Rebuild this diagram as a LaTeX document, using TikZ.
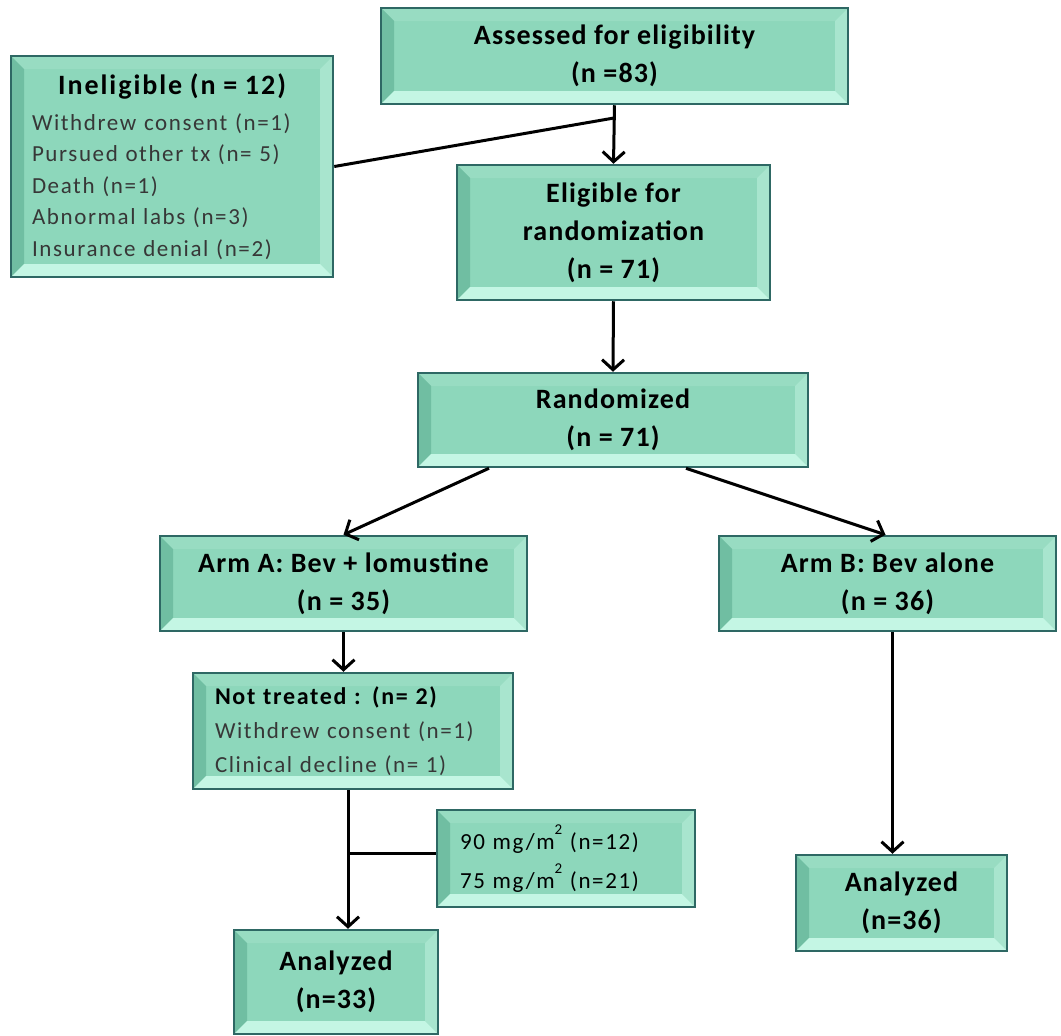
\documentclass[tikz,border=0pt]{standalone}
\usepackage{fontspec}
\setmainfont[LetterSpace=7]{Carlito}
\newfontfamily\titlefont[LetterSpace=4]{Carlito}
\usetikzlibrary{arrows.meta}

\definecolor{boxface}{RGB}{141,215,187}
\definecolor{boxline}{RGB}{46,104,100}
\definecolor{bevtop}{RGB}{152,220,194}
\definecolor{bevleft}{RGB}{112,190,162}
\definecolor{bevright}{RGB}{168,229,206}
\definecolor{bevbottom}{RGB}{196,246,228}
\definecolor{subtext}{RGB}{55,55,55}

\tikzset{every picture/.style={line width=3pt}}
\tikzset{
  bevelbox/.style={draw=boxline, line width=2.5pt, fill=boxface, inner sep=0pt,
    align=center, font=\titlefont\bfseries\fontsize{28}{38}\selectfont,
    path picture={
      \coordinate (bnw) at (path picture bounding box.north west);
      \coordinate (bne) at (path picture bounding box.north east);
      \coordinate (bsw) at (path picture bounding box.south west);
      \coordinate (bse) at (path picture bounding box.south east);
      \fill[bevtop] (bnw) -- (bne) -- ([shift={(-13pt,-13pt)}]bne) -- ([shift={(13pt,-13pt)}]bnw) -- cycle;
      \fill[bevleft] (bnw) -- (bsw) -- ([shift={(13pt,13pt)}]bsw) -- ([shift={(13pt,-13pt)}]bnw) -- cycle;
      \fill[bevright] (bne) -- (bse) -- ([shift={(-13pt,13pt)}]bse) -- ([shift={(-13pt,-13pt)}]bne) -- cycle;
      \fill[bevbottom] (bsw) -- (bse) -- ([shift={(-13pt,13pt)}]bse) -- ([shift={(13pt,13pt)}]bsw) -- cycle;
    }},
  listbox/.style={bevelbox, align=left, font=\normalfont\fontsize{23}{31.5}\selectfont},
  arr/.style={-{Straight Barb[length=10pt,width=22pt]}}
}

\begin{document}
\begin{tikzpicture}[x=1pt,y=-1pt]
\useasboundingbox (0,0) rectangle (1061,1036);

% boxes
\node[bevelbox, minimum width=467pt, minimum height=96pt] (assess) at (614.5,56) {Assessed for eligibility\\(n =83)};
\node[listbox, minimum width=322pt, minimum height=221pt, text width=280pt] (inelig) at (172,166.5)
  {\makebox[\linewidth][c]{\fontsize{28}{31.5}\selectfont\bfseries Ineligible (n = 12)}\\[4pt]
   \color{subtext}Withdrew consent (n=1)\\
   Pursued other tx (n= 5)\\
   Death (n=1)\\
   Abnormal labs (n=3)\\
   Insurance denial (n=2)};
\node[bevelbox, minimum width=313pt, minimum height=135pt] (elig) at (613.5,232.5) {Eligible for\\randomization\\(n = 71)};
\node[bevelbox, minimum width=390pt, minimum height=94pt] (rand) at (613,420) {Randomized\\(n = 71)};
\node[bevelbox, minimum width=367pt, minimum height=95pt] (arma) at (343.5,583.5) {Arm A: Bev + lomustine\\(n = 35)};
\node[bevelbox, minimum width=337pt, minimum height=95pt] (armb) at (887.5,583.5) {Arm B: Bev alone\\(n = 36)};
\node[listbox, minimum width=320pt, minimum height=116pt, text width=276pt, font=\normalfont\fontsize{23}{34}\selectfont] (nottx) at (353,731)
  {{\fontsize{24}{34}\selectfont\bfseries Not treated : (n= 2)}\\
   \color{subtext}Withdrew consent (n=1)\\
   Clinical decline (n= 1)};
\node[listbox, minimum width=258pt, minimum height=97pt, text width=212pt, font=\normalfont\fontsize{23}{39}\selectfont] (dose) at (566,858.5)
  {90 mg/m\raisebox{1.3ex}{\fontsize{15}{15}\selectfont 2} (n=12)\\
   75 mg/m\raisebox{1.3ex}{\fontsize{15}{15}\selectfont 2} (n=21)};
\node[bevelbox, minimum width=204pt, minimum height=104pt] (anala) at (336,982) {Analyzed\\(n=33)};
\node[bevelbox, minimum width=211pt, minimum height=96pt] (analb) at (901.5,903) {Analyzed\\(n=36)};

% junctions
\coordinate (j1) at (614,118);
\coordinate (j2) at (348,853);

% connectors
\draw[arr] (assess.south) -- (elig.north);
\draw (inelig.east) -- (j1);
\draw[arr] (elig.south) -- (rand.north);
\draw[arr] ([xshift=-124pt]rand.south) -- (arma.north);
\draw[arr] ([xshift=73pt]rand.south) -- ([xshift=-2pt]armb.north);
\draw[arr] (arma.south) -- (arma.south |- nottx.north);
\draw[arr] (nottx.south -| j2) -- (anala.north -| j2);
\draw (j2) -- (j2 -| dose.west);
\draw[arr] ([xshift=5pt]armb.south) -- ([xshift=5pt]armb.south |- analb.north);

\end{tikzpicture}
\end{document}
